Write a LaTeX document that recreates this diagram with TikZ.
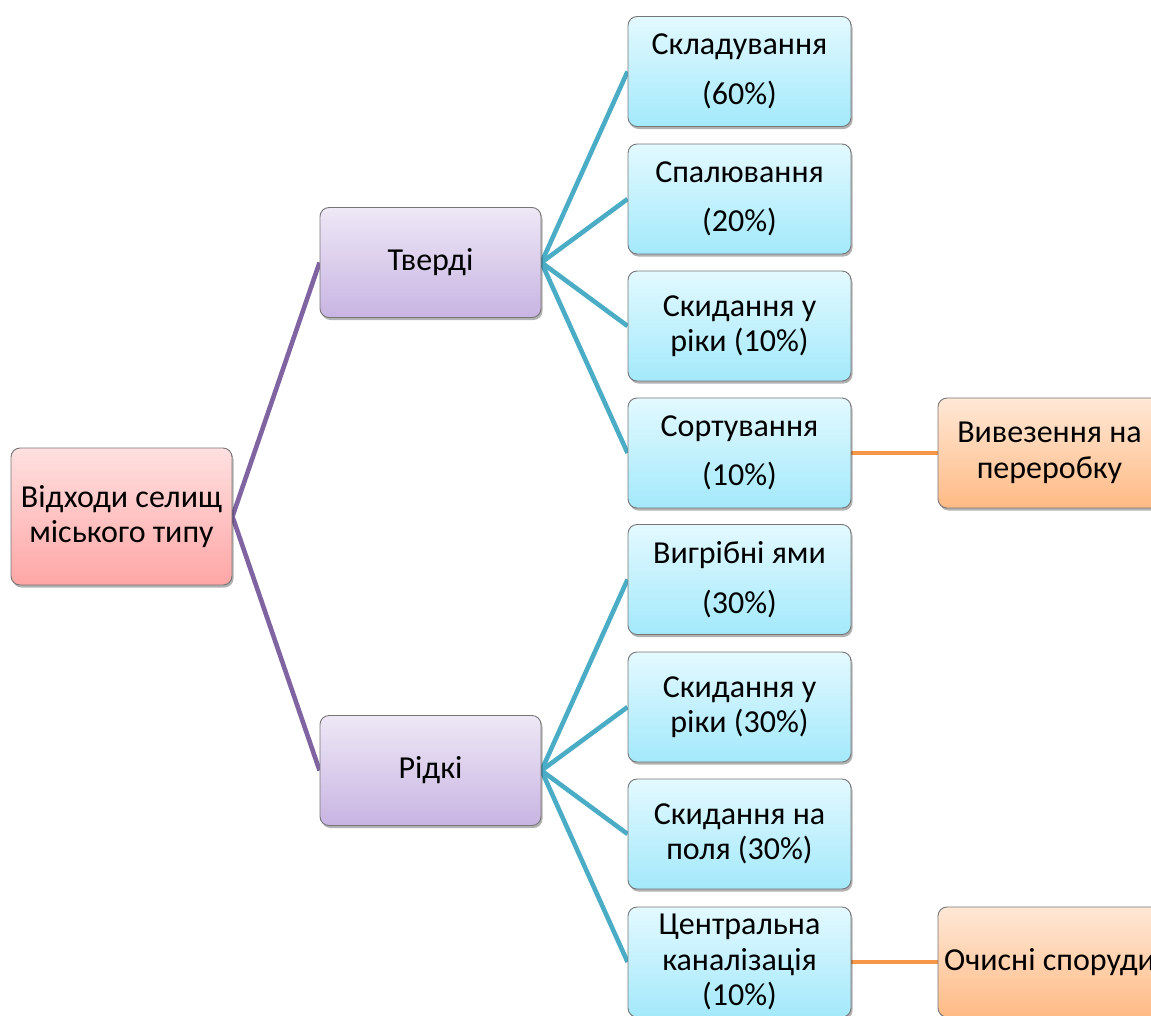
\documentclass[tikz,border=0pt]{standalone}
\usepackage{fontspec}
\setmainfont{Carlito}
\usetikzlibrary{shadows,backgrounds}
\definecolor{boxgray}{RGB}{118,118,118}
\definecolor{rootTop}{RGB}{255,224,224}
\definecolor{rootBot}{RGB}{255,166,166}
\definecolor{purTop}{RGB}{238,232,246}
\definecolor{purBot}{RGB}{200,180,226}
\definecolor{bluTop}{RGB}{227,249,255}
\definecolor{bluBot}{RGB}{163,233,251}
\definecolor{orTop}{RGB}{255,232,214}
\definecolor{orBot}{RGB}{255,186,133}
\definecolor{purLine}{RGB}{128,100,162}
\definecolor{bluLine}{RGB}{75,172,198}
\definecolor{orLine}{RGB}{247,150,70}
\begin{document}
\begin{tikzpicture}[x=1pt,y=-1pt,
  box/.style={rounded corners=9pt, draw=boxgray, line width=0.9pt,
    minimum width=221pt, minimum height=110pt, inner sep=0pt, align=center,
    font=\fontsize{32}{35.5}\selectfont,
    drop shadow={shadow xshift=1.5pt, shadow yshift=-2.5pt, opacity=0.3, fill=black}},
  rootbox/.style={box, top color=rootTop, bottom color=rootBot, minimum height=137pt},
  purbox/.style={box, top color=purTop, bottom color=purBot},
  blubox/.style={box, top color=bluTop, bottom color=bluBot, minimum width=223pt},
  orbox/.style={box, top color=orTop, bottom color=orBot, minimum width=223pt},
  pline/.style={draw=purLine, line width=4.6pt},
  bline/.style={draw=bluLine, line width=4.6pt},
  oline/.style={draw=orLine, line width=4.6pt}]
\useasboundingbox (0,0) rectangle (1151,1015);
\clip (0,0) rectangle (1151,1015);

\node[rootbox] (root) at (121.5,516.5) {Відходи селищ\\міського типу};
\node[purbox] (t) at (430.5,262.5) {Тверді};
\node[purbox] (r) at (430.5,770.5) {Рідкі};

\node[blubox] (b1) at (739.5,71.5) {Складування\\[14pt](60\%)};
\node[blubox] (b2) at (739.5,199) {Спалювання\\[14pt](20\%)};
\node[blubox] (b3) at (739.5,326) {Скидання у\\ріки (10\%)};
\node[blubox] (b4) at (739.5,453) {Сортування\\[14pt](10\%)};
\node[blubox] (b5) at (739.5,579.5) {Вигрібні ями\\[14pt](30\%)};
\node[blubox] (b6) at (739.5,707) {Скидання у\\ріки (30\%)};
\node[blubox] (b7) at (739.5,834) {Скидання на\\поля (30\%)};
\node[blubox] (b8) at (739.5,962) {Центральна\\каналізація\\(10\%)};

\node[orbox] (o1) at (1049.5,453) {Вивезення на\\переробку};
\node[orbox] (o2) at (1049.5,962) {Очисні споруди};

\begin{scope}[on background layer]
\draw[pline] (root.east) -- (t.west);
\draw[pline] (root.east) -- (r.west);
\foreach \b in {b1,b2,b3,b4} \draw[bline] (t.east) -- (\b.west);
\foreach \b in {b5,b6,b7,b8} \draw[bline] (r.east) -- (\b.west);
\draw[oline] (b4.east) -- (o1.west);
\draw[oline] (b8.east) -- (o2.west);
\end{scope}
\end{tikzpicture}
\end{document}
